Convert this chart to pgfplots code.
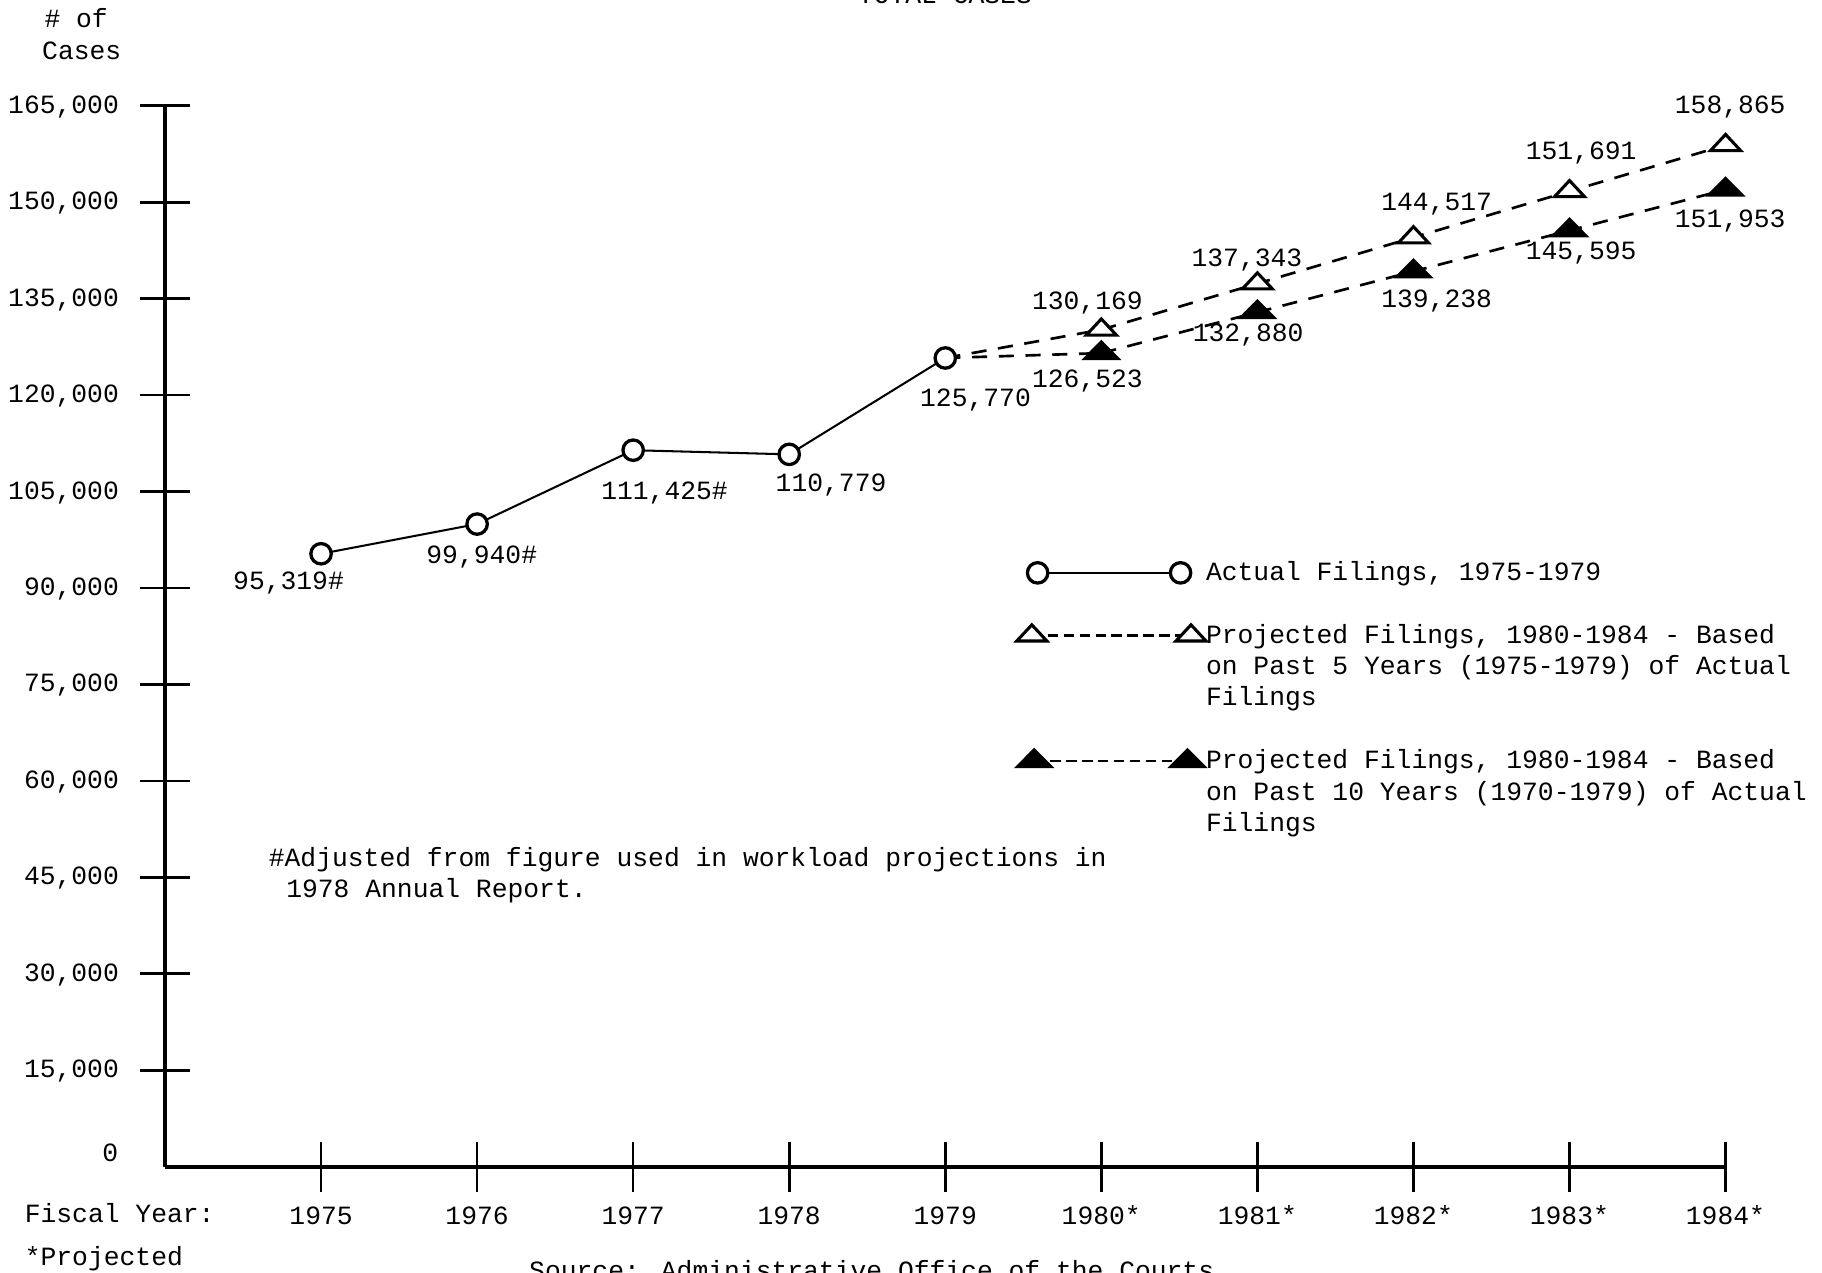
\documentclass[border=0pt]{standalone}
\usepackage{fontspec}
\setmainfont{Liberation Mono}
\usepackage{pgfplots}
\pgfplotsset{compat=1.18}
\newcommand{\myf}{\fontsize{12.9}{15.4}\selectfont}
\tikzset{lab/.style={font=\myf, inner sep=0pt, text height=0.28cm, text depth=0cm}}
\pgfplotsset{
  legA/.style={legend image code/.code={\path[draw=none, fill=none] (-0.4cm,-0.2cm) rectangle (2.94cm,0.2cm);
    \draw[##1] plot coordinates {(0.08cm,0cm) (2.54cm,0cm)};}},
  legB/.style={legend image code/.code={\path[draw=none, fill=none] (-0.4cm,-0.2cm) rectangle (2.94cm,0.2cm);
    \draw[##1, dash pattern=on 5.2pt off 2.6pt] plot coordinates {(-0.02cm,0cm) (2.72cm,0cm)};}},
  legC/.style={legend image code/.code={\path[draw=none, fill=none] (-0.4cm,-0.2cm) rectangle (2.94cm,0.2cm);
    \draw[##1, dash pattern=on 5.2pt off 2.6pt] plot coordinates {(0.02cm,0cm) (2.66cm,0cm)};}},
}

\begin{document}
\begin{tikzpicture}[font=\myf]
\useasboundingbox (0,0) rectangle (31.36cm,21.9cm);
\begin{axis}[
  at={(2.84cm,1.82cm)}, anchor=south west,
  scale only axis, width=26.86cm, height=18.26cm,
  xmin=1974, xmax=1984, ymin=0, ymax=165000,
  clip=false,
  axis x line=bottom, axis y line=left,
  axis line style={-, line width=2pt},
  xtick={1975,...,1984},
  xticklabels={1975,1976,1977,1978,1979,1980*,1981*,1982*,1983*,1984*},
  ytick={15000,30000,...,165000},
  extra y ticks={0},
  extra y tick style={major tick length=0pt, yticklabel style={xshift=-0.44cm, yshift=0.22cm}},
  tick align=center, major tick length=0.86cm,
  tick style={black, line width=1.3pt},
  scaled y ticks=false,
  /pgf/number format/fixed,
  /pgf/number format/1000 sep={,},
  /pgf/number format/assume math mode=true,
  tick label style={font=\myf},
  yticklabel style={anchor=base east, inner sep=0pt, xshift=-0.36cm, yshift=-0.13cm},
  xticklabel style={anchor=base, inner sep=0pt, yshift=-0.57cm},
  legend cell align=left,
  legend style={at={(0.5413,0.5745)}, anchor=north west, draw=none, fill=none,
    inner sep=0pt, outer sep=0pt, row sep=0pt, column sep=0pt, font=\myf,
    nodes={inner sep=0pt, text height=0.40cm, text depth=0.14cm}},
]
% dashed links from the last actual year
\addplot[forget plot, black, line width=1.3pt, dash pattern=on 7.4pt off 5.7pt]
  coordinates {(1979,125770) (1980,130169)};
\addplot[forget plot, black, line width=1.3pt, dash pattern=on 7.4pt off 5.7pt]
  coordinates {(1979,125770) (1980,126523)};

\addplot[black, line width=1pt, mark=*, mark size=5pt,
  mark options={fill=white, draw=black, line width=1.6pt}, legA]
  coordinates {(1975,95319) (1976,99940) (1977,111425) (1978,110779) (1979,125770)};
\addlegendentry{Actual Filings, 1975-1979}
\addlegendimage{empty legend}
\addlegendentry{\mbox{}}

\addplot[black, line width=1.3pt, dash pattern=on 7.4pt off 5.7pt,
  mark=triangle*, mark size=8.5pt,
  mark options={solid, fill=white, draw=black, line width=1.5pt, yscale=0.62}, legB]
  coordinates {(1980,130169) (1981,137343) (1982,144517) (1983,151691) (1984,158865)};
\addlegendentry{Projected Filings, 1980-1984 - Based}
\addlegendimage{empty legend}
\addlegendentry{on Past 5 Years (1975-1979) of Actual}
\addlegendimage{empty legend}
\addlegendentry{Filings}
\addlegendimage{empty legend}
\addlegendentry{\mbox{}}

\addplot[black, line width=1.3pt, dash pattern=on 7.4pt off 5.7pt,
  mark=triangle*, mark size=10pt,
  mark options={solid, fill=black, draw=black, line width=1pt, yscale=0.58}, legC]
  coordinates {(1980,126523) (1981,132880) (1982,139238) (1983,145595) (1984,151953)};
\addlegendentry{Projected Filings, 1980-1984 - Based}
\addlegendimage{empty legend}
\addlegendentry{on Past 10 Years (1970-1979) of Actual}
\addlegendimage{empty legend}
\addlegendentry{Filings}

% value labels
\node[lab, xshift=-0.56cm, yshift=-0.48cm] at (axis cs:1975,95319) {95,319\#};
\node[lab, xshift=0.08cm, yshift=-0.54cm] at (axis cs:1976,99940) {99,940\#};
\node[lab, xshift=0.54cm, yshift=-0.70cm] at (axis cs:1977,111425) {111,425\#};
\node[lab, xshift=0.72cm, yshift=-0.50cm] at (axis cs:1978,110779) {110,779};
\node[lab, xshift=0.52cm, yshift=-0.70cm] at (axis cs:1979,125770) {125,770};
\node[lab, xshift=-0.24cm, yshift=0.48cm] at (axis cs:1980,130169) {130,169};
\node[lab, xshift=-0.18cm, yshift=0.44cm] at (axis cs:1981,137343) {137,343};
\node[lab, xshift=0.40cm, yshift=0.60cm] at (axis cs:1982,144517) {144,517};
\node[lab, xshift=0.20cm, yshift=0.68cm] at (axis cs:1983,151691) {151,691};
\node[lab, xshift=0.08cm, yshift=0.68cm] at (axis cs:1984,158865) {158,865};
\node[lab, xshift=-0.24cm, yshift=-0.46cm] at (axis cs:1980,126523) {126,523};
\node[lab, xshift=-0.16cm, yshift=-0.36cm] at (axis cs:1981,132880) {132,880};
\node[lab, xshift=0.40cm, yshift=-0.48cm] at (axis cs:1982,139238) {139,238};
\node[lab, xshift=0.20cm, yshift=-0.36cm] at (axis cs:1983,145595) {145,595};
\node[lab, xshift=0.08cm, yshift=-0.52cm] at (axis cs:1984,151953) {151,953};
\end{axis}

\begin{scope}[x=0.02cm, y=0.02cm, every node/.style={inner sep=0pt, font=\myf}]
\node[anchor=base] at (813,1091.5) {TOTAL CASES};
\node[anchor=base west] at (38,1071.5) {\# of};
\node[anchor=base west] at (36,1043.5) {Cases};
\node[anchor=base west] at (21,42.5) {Fiscal Year:};
\node[anchor=base west] at (21,5.5) {*Projected};
\node[anchor=base west] at (231,349.5) {\#Adjusted from figure used in workload projections in};
\node[anchor=base west] at (246,322.5) {1978 Annual Report.};
\node[anchor=base west] at (455,-6) {Source:  Administrative Office of the Courts};
\end{scope}
\end{tikzpicture}
\end{document}
